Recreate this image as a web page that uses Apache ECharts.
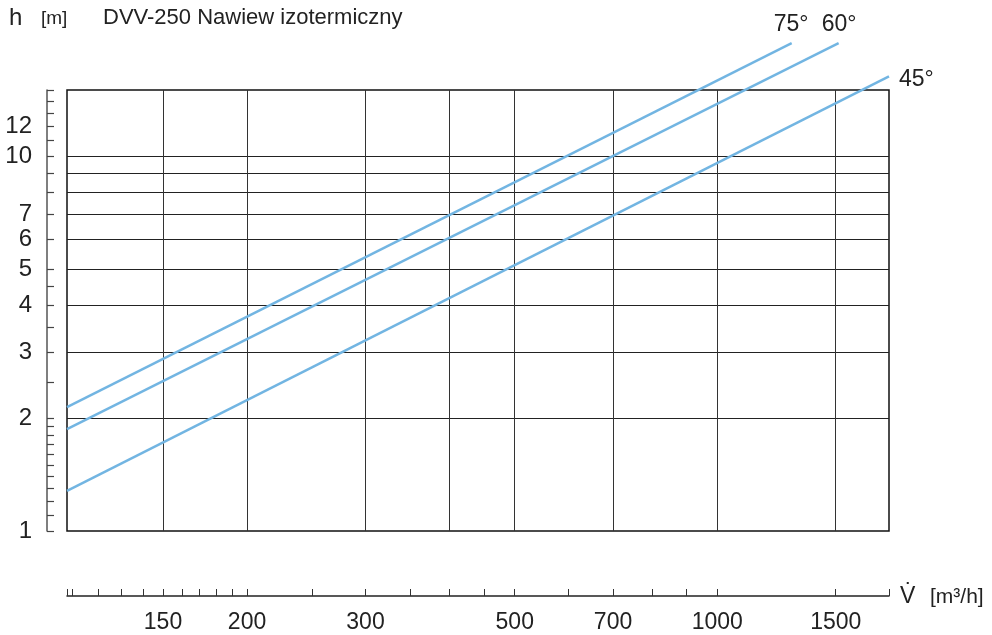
<!DOCTYPE html>
<html>
<head>
<meta charset="utf-8">
<script src="https://cdn.jsdelivr.net/npm/echarts@6/dist/echarts.min.js"></script>
<style>
html,body{margin:0;padding:0;background:#fff;}
#chart{width:992px;height:635px;}
</style>
</head>
<body>
<div id="chart"></div>
<script>
// ---- data ----
const seriesNames = ['75°', '60°', '45°'];
const flow75 = [108, 1290];
const height75 = [2.14, 20.0];
const flow60 = [108, 1515];
const height60 = [1.87, 20.0];
const flow45 = [108, 1800];
const height45 = [1.28, 16.3];

const xMin = 108, xMax = 1800;
const yMin = 1, yMax = 15;
const xGridValues = [150, 200, 300, 400, 500, 700, 1000, 1500];
const xTickValues = [108, 110, 120, 130, 140, 150, 160, 170, 180, 190, 200, 250, 300, 350, 400, 450, 500, 600, 700, 800, 900, 1000, 1500, 1800];
const xTickLabels = [150, 200, 300, 500, 700, 1000, 1500];
const yGridValues = [2, 3, 4, 5, 6, 7, 8, 9, 10];
const yTickValues = [1, 1.1, 1.2, 1.3, 1.4, 1.5, 1.6, 1.7, 1.8, 1.9, 2, 2.5, 3, 3.5, 4, 4.5, 5, 6, 7, 8, 9, 10, 11, 12, 13, 14, 15];
const yTickLabels = [1, 2, 3, 4, 5, 6, 7, 10, 12];

const titleText = 'DVV-250 Nawiew izotermiczny';
const yName = 'h';
const yUnit = '[m]';
const xName = 'V\u0307';
const xUnit = '[m³/h]';

const FONT = '"Liberation Sans Narrow", "Arial Narrow", "Liberation Sans", sans-serif';
const FONT_W = '"Liberation Sans", Arial, sans-serif';
const TXT = '#222';
const LINE = '#72b5e2';

function pairs(xs, ys) { return xs.map((x, i) => [x, ys[i]]); }
const seriesData = [pairs(flow75, height75), pairs(flow60, height60), pairs(flow45, height45)];
const endLabelOffset = [[-18, -18], [-17, -18], [0, 3]];
const endLabelDistance = [0, 0, 10];

const chart = echarts.init(document.getElementById('chart'), null, {renderer: 'canvas'});
const fmt = v => String(Math.round(v));

chart.setOption({
  animation: false,
  backgroundColor: '#fff',
  grid: {left: 67, top: 90, right: 103, bottom: 104, show: true, borderColor: '#111', borderWidth: 1.5, backgroundColor: 'transparent'},
  xAxis: [
    {type: 'log', logBase: 10, min: xMin, max: xMax, position: 'bottom',
      axisLine: {show: false}, axisLabel: {show: false},
      axisTick: {show: false, customValues: xGridValues},
      splitLine: {show: true, lineStyle: {color: '#333', width: 1}}},
    {type: 'log', logBase: 10, min: xMin, max: xMax, position: 'bottom', offset: 65,
      axisLine: {show: true, lineStyle: {color: '#222', width: 1.5}},
      axisTick: {show: true, inside: true, length: 7, customValues: xTickValues, lineStyle: {color: '#333', width: 1}},
      axisLabel: {show: true, customValues: xTickLabels, formatter: fmt, fontFamily: FONT, fontSize: 23, color: TXT, margin: 15},
      splitLine: {show: false}}
  ],
  yAxis: [
    {type: 'log', logBase: 10, min: yMin, max: yMax, position: 'left',
      axisLine: {show: false}, axisLabel: {show: false},
      axisTick: {show: false, customValues: yGridValues},
      splitLine: {show: true, lineStyle: {color: '#222', width: 1}}},
    {type: 'log', logBase: 10, min: yMin, max: yMax, position: 'left', offset: 20,
      axisLine: {show: true, lineStyle: {color: '#555', width: 1.5}},
      axisTick: {show: true, inside: true, length: 7, customValues: yTickValues, lineStyle: {color: '#444', width: 1.2}},
      axisLabel: {show: true, customValues: yTickLabels, formatter: fmt, fontFamily: FONT, fontSize: 24, color: TXT, margin: 15},
      splitLine: {show: false}}
  ],
  series: seriesNames.map((name, i) => ({
    name: name, type: 'line', xAxisIndex: 0, yAxisIndex: 0, clip: false,
    showSymbol: false, symbol: 'none',
    lineStyle: {color: LINE, width: 2.5},
    endLabel: {show: true, formatter: name, distance: endLabelDistance[i], offset: endLabelOffset[i],
      fontFamily: FONT_W, fontSize: 23, color: TXT},
    data: seriesData[i]
  })),
  graphic: [
    {type: 'text', left: 9, top: 6, style: {text: yName, font: '24px ' + FONT_W, fill: TXT}},
    {type: 'text', left: 41, top: 9, style: {text: yUnit, font: '19px ' + FONT_W, fill: TXT}},
    {type: 'text', left: 103, top: 7, style: {text: titleText, font: '22px ' + FONT_W, fill: TXT}},
    {type: 'text', left: 900, top: 585, style: {text: xName, font: '23px ' + FONT_W, fill: TXT}},
    {type: 'text', left: 930, top: 587, style: {text: xUnit, font: '21px ' + FONT_W, fill: TXT}}
  ]
});
</script>
</body>
</html>
